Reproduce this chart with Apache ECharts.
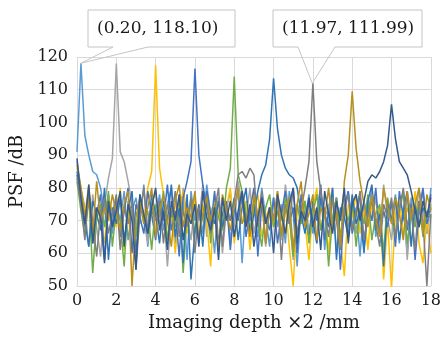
<!DOCTYPE html>
<html>
<head>
<meta charset="utf-8">
<style>
  html, body { margin: 0; padding: 0; background: #fff; }
  #psfChart { width: 444px; height: 337px; }
</style>
<script src="https://cdn.jsdelivr.net/npm/echarts@6/dist/echarts.min.js"></script>
</head>
<body>
<div id="psfChart"></div>
<script>
// imaging depth samples (x2 mm)
const depth = [
  0, 0.2, 0.4, 0.6, 0.8, 1, 1.2, 1.4, 1.6, 1.8,
  2, 2.2, 2.4, 2.6, 2.8, 3, 3.2, 3.4, 3.6, 3.8,
  4, 4.2, 4.4, 4.6, 4.8, 5, 5.2, 5.4, 5.6, 5.8,
  6, 6.2, 6.4, 6.6, 6.8, 7, 7.2, 7.4, 7.6, 7.8,
  8, 8.2, 8.4, 8.6, 8.8, 9, 9.2, 9.4, 9.6, 9.8,
  10, 10.2, 10.4, 10.6, 10.8, 11, 11.2, 11.4, 11.6, 11.8,
  12, 12.2, 12.4, 12.6, 12.8, 13, 13.2, 13.4, 13.6, 13.8,
  14, 14.2, 14.4, 14.6, 14.8, 15, 15.2, 15.4, 15.6, 15.8,
  16, 16.2, 16.4, 16.6, 16.8, 17, 17.2, 17.4, 17.6, 17.8,
  18
];

// PSF (dB), one curve per point target
const psf0 = [
  91, 118.1, 96, 90, 85, 84, 80, 72, 78, 66,
  75, 70, 79, 64, 73, 77, 69, 81, 62, 74,
  71, 78, 67, 75, 80, 63, 72, 76, 58, 79,
  70, 74, 66, 81, 72, 60, 77, 69, 75, 64,
  73, 79, 57, 76, 70, 74, 65, 80, 71, 62,
  77, 68, 75, 63, 79, 72, 56, 74, 69, 78,
  66, 73, 80, 61, 75, 70, 77, 64, 72, 79,
  68, 74, 59, 76, 71, 80, 65, 73, 57, 75,
  70, 78, 63, 74, 60, 77, 69, 72, 79, 66,
  80
];
const psf2 = [
  88, 80, 74, 62, 78, 68, 59, 75, 83, 89,
  118, 91, 88, 82, 75, 66, 77, 70, 63, 75,
  79, 69, 74, 56, 72, 78, 67, 80, 71, 64,
  76, 70, 81, 65, 74, 69, 77, 60, 73, 79,
  68, 82, 75, 71, 80, 66, 73, 78, 62, 74,
  70, 77, 64, 81, 72, 58, 75, 69, 76, 67,
  72, 63, 78, 71, 74, 80, 60, 73, 77, 68,
  75, 66, 79, 62, 74, 70, 77, 65, 81, 71,
  64, 76, 72, 79, 58, 74, 69, 80, 73, 66,
  75
];
const psf4 = [
  86, 79, 72, 81, 67, 74, 70, 63, 77, 73,
  68, 80, 61, 75, 72, 57, 76, 70, 80, 85,
  117.5, 86, 78, 69, 74, 60, 73, 79, 66, 71,
  77, 64, 75, 70, 56, 78, 72, 67, 74, 80,
  63, 72, 69, 76, 61, 73, 78, 65, 71, 74,
  68, 79, 70, 75, 62, 50, 73, 76, 69, 58,
  74, 80, 67, 72, 60, 77, 70, 64, 53, 75,
  71, 78, 66, 73, 61, 76, 69, 74, 52, 70,
  49, 72, 77, 65, 74, 70, 79, 63, 57, 71,
  60
];
const psf6 = [
  84, 76, 68, 80, 63, 72, 78, 58, 74, 69,
  77, 65, 73, 80, 60, 75, 71, 66, 79, 72,
  64, 76, 70, 81, 67, 73, 59, 77, 82, 88,
  116.5, 90, 81, 74, 68, 79, 63, 72, 76, 61,
  74, 70, 78, 65, 73, 80, 59, 75, 71, 67,
  77, 63, 72, 79, 69, 74, 60, 78, 71, 65,
  76, 70, 81, 64, 73, 68, 77, 55, 74, 79,
  66, 72, 78, 61, 75, 70, 80, 65, 73, 68,
  76, 62, 79, 71, 67, 75, 58, 73, 80, 69,
  74
];
const psf8 = [
  82, 73, 66, 77, 54, 71, 75, 68, 79, 62,
  74, 70, 56, 76, 72, 65, 78, 69, 73, 61,
  75, 71, 79, 64, 73, 68, 77, 54, 72, 76,
  66, 74, 70, 78, 63, 75, 71, 67, 80, 86,
  114, 84, 79, 72, 66, 76, 70, 62, 74, 78,
  68, 73, 65, 77, 71, 59, 75, 69, 76, 63,
  72, 78, 67, 74, 56, 71, 77, 65, 73, 70,
  76, 62, 74, 69, 78, 64, 72, 75, 60, 77,
  70, 66, 74, 79, 63, 72, 68, 76, 65, 73,
  71
];
const psf10 = [
  85, 78, 70, 62, 76, 72, 67, 80, 58, 74,
  69, 77, 64, 73, 79, 60, 75, 71, 66, 78,
  72, 63, 76, 70, 81, 65, 74, 57, 78, 52,
  67, 75, 62, 79, 72, 69, 76, 68, 73, 70,
  77, 64, 74, 80, 66, 72, 79, 84, 87, 95,
  113.5, 98, 90, 86, 84, 83, 80, 72, 66, 76,
  70, 63, 77, 72, 68, 80, 58, 74, 71, 65,
  78, 69, 73, 60, 76, 81, 67, 72, 56, 75,
  70, 77, 64, 73, 79, 62, 75, 68, 74, 71,
  78
];
const psf12 = [
  83, 75, 64, 79, 70, 59, 73, 77, 66, 72,
  78, 61, 74, 69, 76, 55, 72, 80, 67, 73,
  70, 76, 63, 75, 71, 79, 65, 73, 68, 77,
  60, 74, 71, 78, 66, 73, 80, 62, 75, 70,
  76, 84, 85, 83, 86, 84, 68, 79, 63, 74,
  71, 77, 58, 75, 69, 80, 66, 73, 80, 88,
  111.99, 88, 79, 72, 65, 77, 70, 61, 74, 78,
  67, 73, 79, 64, 72, 76, 69, 62, 75, 71,
  77, 65, 73, 80, 68, 74, 61, 76, 70, 50,
  72
];
const psf14 = [
  87, 80, 71, 76, 66, 82, 70, 74, 70, 78,
  72, 67, 75, 79, 50, 71, 77, 69, 74, 80,
  65, 73, 78, 70, 62, 76, 81, 68, 74, 71,
  79, 64, 72, 77, 70, 75, 61, 78, 73, 67,
  74, 80, 69, 72, 65, 78, 71, 76, 63, 74,
  70, 79, 66, 73, 77, 61, 75, 82, 68, 72,
  78, 64, 74, 71, 80, 67, 73, 62, 82, 90,
  109.5, 92, 82, 75, 68, 78, 71, 65, 80, 74,
  69, 77, 72, 64, 79, 71, 75, 80, 66, 78,
  73
];
const psf16 = [
  89, 77, 69, 81, 63, 74, 71, 57, 76, 68,
  73, 79, 62, 75, 70, 55, 78, 72, 66, 74,
  80, 67, 73, 61, 76, 70, 78, 64, 72, 69,
  75, 62, 79, 71, 67, 74, 58, 77, 70, 76,
  65, 73, 79, 68, 75, 62, 71, 77, 69, 74,
  60, 78, 72, 66, 75, 80, 63, 73, 70, 77,
  68, 74, 61, 79, 72, 66, 76, 70, 80, 63,
  75, 78, 70, 76, 82, 84, 83, 85, 88, 93,
  105.5, 95, 88, 86, 84, 79, 73, 68, 76, 71,
  77
];

const curves = [psf0, psf2, psf4, psf6, psf8, psf10, psf12, psf14, psf16];
const xTicks = [0, 2, 4, 6, 8, 10, 12, 14, 16, 18];
const yTicks = [50, 60, 70, 80, 90, 100, 110, 120];

// peak call-outs: [depth, psf]
const peakA = [0.20, 118.10];
const peakB = [11.97, 111.99];
const peakALabel = '(0.20, 118.10)';
const peakBLabel = '(11.97, 111.99)';

const serif = 'DejaVu Serif';
const colors = ['#5B9BD5', '#A5A5A5', '#FFC000', '#4472C4', '#70AD47',
                '#2E75B6', '#7F7F7F', '#B8901F', '#34598A'];

const chart = echarts.init(document.getElementById('psfChart'));

const options = {
    animation: false,
    color: colors,
    grid: {
        left: 77,
        right: 13,
        top: 57,
        bottom: 47
    },
    xAxis: {
        type: 'value',
        min: xTicks[0],
        max: xTicks[xTicks.length - 1],
        interval: 2,
        name: 'Imaging depth \u00d72 /mm',
        nameLocation: 'middle',
        nameGap: 28,
        nameTextStyle: { fontFamily: serif, fontSize: 18, color: '#1a1a1a' },
        axisLine: { show: true, lineStyle: { color: '#d9d9d9' } },
        axisTick: { show: false },
        axisLabel: { fontFamily: serif, fontSize: 16, color: '#1a1a1a', margin: 7 },
        splitLine: { show: true, lineStyle: { color: '#d9d9d9' } }
    },
    yAxis: {
        type: 'value',
        min: yTicks[0],
        max: yTicks[yTicks.length - 1],
        interval: 10,
        name: 'PSF /dB',
        nameLocation: 'middle',
        nameGap: 50,
        nameTextStyle: { fontFamily: serif, fontSize: 18, color: '#1a1a1a' },
        axisLine: { show: false },
        axisTick: { show: false },
        axisLabel: { fontFamily: serif, fontSize: 16, color: '#1a1a1a', margin: 9 },
        splitLine: { show: true, lineStyle: { color: '#d9d9d9' } }
    },
    series: curves.map((vals, k) => ({
        name: 'target' + k,
        type: 'line',
        showSymbol: false,
        clip: true,
        lineStyle: { width: 1.5 },
        data: depth.map((d, i) => [d, vals[i]])
    }))
};

chart.setOption(options);

// call-out boxes with a pointer down to the peak
const tipA = chart.convertToPixel({ gridIndex: 0 }, peakA);
const tipB = chart.convertToPixel({ gridIndex: 0 }, peakB);

function callout(x0, x1, y0, y1, b0, b1, tip, text) {
    return [
        {
            type: 'polygon',
            shape: { points: [[x0, y0], [x1, y0], [x1, y1], [b1, y1], tip, [b0, y1], [x0, y1]] },
            style: { fill: 'none', stroke: '#c4c4c4', lineWidth: 1 },
            z: 100
        },
        {
            type: 'text',
            x: x0 + 9,
            y: (y0 + y1) / 2,
            style: {
                text: text,
                font: '17px "' + serif + '"',
                fill: '#1a1a1a',
                verticalAlign: 'middle'
            },
            z: 101
        }
    ];
}

chart.setOption({
    graphic: [].concat(
        callout(88, 235, 10, 47, 113, 148, tipA, peakALabel),
        callout(273, 422, 10, 47, 298, 335, tipB, peakBLabel)
    )
});
</script>
</body>
</html>
